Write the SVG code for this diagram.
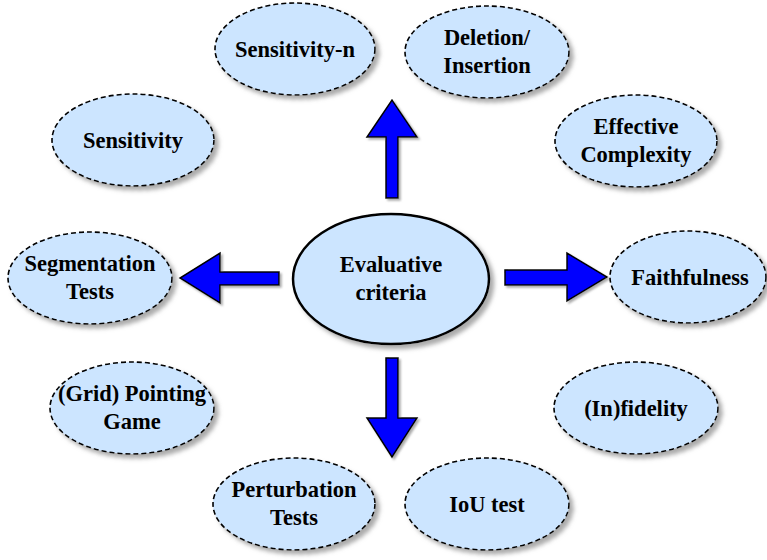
<svg xmlns="http://www.w3.org/2000/svg" width="767" height="560" viewBox="0 0 767 560">
<style>
.n{fill:#cce5ff;stroke:#000;stroke-width:1.6;stroke-dasharray:5 3;filter:url(#sh)}
.c{fill:#cce5ff;stroke:#000;stroke-width:2.5;filter:url(#sh)}
.t{font-family:"Liberation Serif","Times New Roman",serif;font-weight:bold;font-size:22.5px;text-anchor:middle;fill:#000}
.a{fill:#0000ff;stroke:#000;stroke-width:1.5;stroke-linejoin:miter;filter:url(#sh2)}
</style>
<defs>
<filter id="sh" x="-20%" y="-20%" width="140%" height="140%">
<feDropShadow dx="4" dy="4" stdDeviation="2" flood-color="#888" flood-opacity="0.7"/>
</filter>
<filter id="sh2" x="-20%" y="-20%" width="140%" height="140%">
<feDropShadow dx="2" dy="2" stdDeviation="1" flood-color="#888" flood-opacity="0.7"/>
</filter>
</defs>
<g id="connectors">
<polygon class="a" points="386,198 386,137 367,137 392,100 417,137 398,137 398,198"/>
<polygon class="a" points="386,358 398,358 398,418 417,418 392,457 367,418 386,418"/>
<polygon class="a" points="279,272 279,285 220,285 220,303 180,278 220,253 220,272"/>
<polygon class="a" points="505,270 505,285 567,285 567,301 607,277 567,253 567,270"/>
</g>
<g id="center"><ellipse class="c" cx="391" cy="279" rx="98" ry="65"/><text class="t" x="391" y="272">Evaluative</text><text class="t" x="391" y="300">criteria</text></g>
<g id="sensitivity-n"><ellipse class="n" cx="295" cy="49" rx="80" ry="46"/><text class="t" x="295" y="57">Sensitivity-n</text></g>
<g id="deletion"><ellipse class="n" cx="487" cy="52" rx="82" ry="46"/><text class="t" x="487" y="45">Deletion/</text><text class="t" x="487" y="73">Insertion</text></g>
<g id="effective"><ellipse class="n" cx="636" cy="141" rx="81" ry="46"/><text class="t" x="636" y="134">Effective</text><text class="t" x="636" y="162">Complexity</text></g>
<g id="sensitivity"><ellipse class="n" cx="133" cy="140" rx="81" ry="46"/><text class="t" x="133" y="148">Sensitivity</text></g>
<g id="segmentation"><ellipse class="n" cx="90" cy="278" rx="82" ry="46"/><text class="t" x="90" y="271">Segmentation</text><text class="t" x="90" y="299">Tests</text></g>
<g id="faithfulness"><ellipse class="n" cx="688" cy="277" rx="78" ry="46"/><text class="t" x="690" y="285">Faithfulness</text></g>
<g id="pointing"><ellipse class="n" cx="132" cy="408" rx="82" ry="46"/><text class="t" x="132" y="401">(Grid) Pointing</text><text class="t" x="132" y="429">Game</text></g>
<g id="infidelity"><ellipse class="n" cx="636" cy="408" rx="82" ry="46"/><text class="t" x="636" y="416">(In)fidelity</text></g>
<g id="perturbation"><ellipse class="n" cx="294" cy="504" rx="81" ry="46"/><text class="t" x="294" y="497">Perturbation</text><text class="t" x="294" y="525">Tests</text></g>
<g id="iou"><ellipse class="n" cx="487" cy="504" rx="82" ry="46"/><text class="t" x="487" y="512">IoU test</text></g>
</svg>
